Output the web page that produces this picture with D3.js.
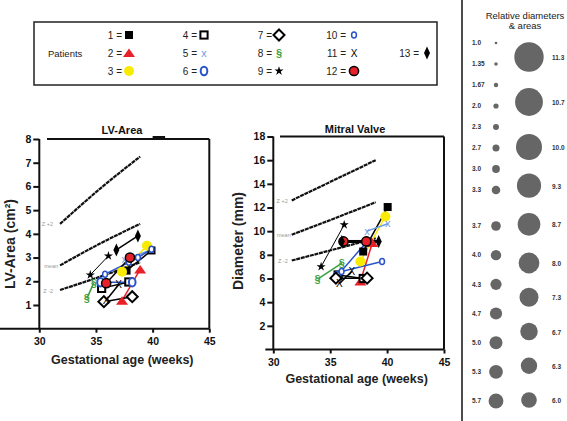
<!DOCTYPE html>
<html><head><meta charset="utf-8">
<script src="https://cdn.jsdelivr.net/npm/d3@7"></script>
<style>body{margin:0;background:#fff}svg{display:block;font-family:Arial,"Liberation Sans",sans-serif}</style>
</head><body><svg id="c" width="567" height="421"></svg>
<script>
// ---------- DATA ----------
const patients = [1,2,3,4,5,6,7,8,9,10,11,12,13];
const patientColors = ["#000","#e8202a","#f8ea00","#000","#6d9de2","#2a52c9","#000","#3a9e3a","#000","#2a52c9","#000","#000","#000"];
// LV-Area (cm2) per patient
const lvWeeks = [[37.7,39.9],[37.3,38.9],[37.3,39.5],[35.5,37.9],[37.5,39.9],[35.4,38.2],[35.7,38.2],[34.2,34.8],[34.5,36.1],[35.8,37.9,38.7,39.9],[35.9,37.0],[35.9,38.0],[36.8,38.7]];
const lvArea  = [[2.45,3.3],[1.18,2.5],[2.4,3.5],[1.7,1.97],[2.9,3.33],[1.96,1.96],[1.14,1.35],[1.28,1.92],[2.27,3.07],[2.3,2.8,3.0,3.35],[1.2,1.85],[1.92,3.0],[3.32,3.91]];
// Mitral valve diameter (mm) per patient
const mvWeeks = [[37.9,40.05],[37.65,38.7],[37.65,39.85],[35.7,37.9],[38.24,40.05],[35.6,38.24],[35.5,38.24],[33.9,36.03],[34.2,36.23],[36.0,39.56],[35.8,36.9],[36.17,38.17],[36.02,39.26]];
const mvDiam  = [[8.28,12.04],[5.75,9.0],[7.44,11.24],[6.3,6.0],[10.0,10.63],[6.2,9.13],[6.03,6.03],[5.95,7.3],[7.0,10.54],[6.6,7.44],[5.55,6.6],[9.13,9.13],[9.13,9.13]];
// reference curves
const refWeeksLV = [31.83,35.4,38.9];
const lvZplus2 = [4.42,5.92,7.26];
const lvMean   = [2.67,3.6,4.42];
const lvZminus2= [1.63,2.2,2.8];
const refWeeksMV = [31.62,35.3,39.0];
const mvZplus2 = [12.6,14.3,16.0];
const mvMean   = [9.7,11.05,12.45];
const mvZminus2= [7.52,8.45,9.4];
const refLabels = ["Z +2","mean","Z -2"];
// axis ticks
const weekTicks = [30,35,40,45];
const lvTicks = [1,2,3,4,5,6,7,8];
const mvTicks = [2,4,6,8,10,12,14,16,18];
// relative diameters panel
const relSmall = [1.0,1.35,1.67,2.0,2.3,2.7,3.0,3.3,3.7,4.0,4.3,4.7,5.0,5.3,5.7];
const relLarge = [11.3,10.7,10.0,9.3,8.7,8.0,7.3,6.7,6.3,6.0];

// ---------- DRAW ----------
const svg = d3.select("#c");

function marker(g, p, x, y, s) {
  const col = patientColors[p-1];
  switch (p) {
    case 1: g.append("rect").attr("x",x-4*s).attr("y",y-4*s).attr("width",8*s).attr("height",8*s).attr("fill","#000"); break;
    case 2: g.append("path").attr("d",`M${x-6*s},${y+4*s}L${x},${y-4.5*s}L${x+6*s},${y+4*s}Z`).attr("fill",col); break;
    case 3: g.append("circle").attr("cx",x).attr("cy",y).attr("r",5*s).attr("fill",col); break;
    case 4: g.append("rect").attr("x",x-3.6*s).attr("y",y-3.6*s).attr("width",7.2*s).attr("height",7.2*s).attr("fill","#fff").attr("stroke","#000").attr("stroke-width",2); break;
    case 5: g.append("text").attr("x",x).attr("y",y+3.5*s).attr("text-anchor","middle").attr("font-size",11*s).attr("fill",col).text("x"); break;
    case 6: g.append("ellipse").attr("cx",x).attr("cy",y).attr("rx",3.3*s).attr("ry",4.3*s).attr("fill","#fff").attr("stroke",col).attr("stroke-width",2); break;
    case 7: g.append("path").attr("d",`M${x},${y-5.5*s}L${x+5.5*s},${y}L${x},${y+5.5*s}L${x-5.5*s},${y}Z`).attr("fill","#fff").attr("stroke","#000").attr("stroke-width",2); break;
    case 8: g.append("text").attr("x",x).attr("y",y+4*s).attr("text-anchor","middle").attr("font-size",11*s).attr("font-weight","bold").attr("fill",col).text("§"); break;
    case 9: g.append("path").attr("transform",`translate(${x},${y})`).attr("d",d3.symbol(d3.symbolStar,26*s*s)()).attr("fill","#000"); break;
    case 10: g.append("ellipse").attr("cx",x).attr("cy",y).attr("rx",2.4*s).attr("ry",3*s).attr("fill","#fff").attr("stroke",col).attr("stroke-width",1.5); break;
    case 11: g.append("text").attr("x",x).attr("y",y+3.5*s).attr("text-anchor","middle").attr("font-size",10*s).attr("fill","#000").text("X"); break;
    case 12: g.append("circle").attr("cx",x).attr("cy",y).attr("r",4.6*s).attr("fill","#e8202a").attr("stroke","#000").attr("stroke-width",1.5); break;
    case 13: g.append("path").attr("d",`M${x},${y-6.5*s}L${x+3*s},${y}L${x},${y+6.5*s}L${x-3*s},${y}Z`).attr("fill","#000"); break;
  }
}

// ---------- Legend ----------
const leg = svg.append("g");
leg.append("rect").attr("x",34).attr("y",22).attr("width",403).attr("height",63).attr("fill","#fff").attr("stroke","#222").attr("stroke-width",1.5);
leg.append("text").attr("x",48).attr("y",57).attr("font-size",9.5).attr("fill","#222").text("Patients");
const legCol = d3.scaleLinear().domain([0,3]).range([129,354]);
const legRow = d3.scaleLinear().domain([0,2]).range([35,71]);
patients.forEach((p,i) => {
  let cx, cy;
  if (p === 13) { cx = 427; cy = legRow(1); }
  else { cx = legCol(Math.floor(i/3)); cy = legRow(i%3); }
  const off = p >= 10 ? 8 : 7;
  leg.append("text").attr("x",cx-off).attr("y",cy+3.5).attr("text-anchor","end").attr("font-size",10).attr("fill","#222").text(p+" =");
  marker(leg,p,cx,cy,1);
});

// ---------- generic chart ----------
function chart(opt) {
  const g = svg.append("g");
  const x = d3.scaleLinear().domain([30,45]).range(opt.xr);
  const y = d3.scaleLinear().domain([0,opt.ymax]).range(opt.yr);
  g.append("line").attr("x1",opt.boxLeft).attr("x2",x(45)).attr("y1",y(opt.ymax)).attr("y2",y(opt.ymax)).attr("stroke","#111").attr("stroke-width",2);
  g.append("line").attr("x1",x(45)).attr("x2",x(45)).attr("y1",y(opt.ymax)).attr("y2",y(0)).attr("stroke","#111").attr("stroke-width",2);
  const ya = g.append("g").attr("transform",`translate(${x(30)},0)`)
     .call(d3.axisLeft(y).tickValues(opt.yticks).tickSize(6).tickPadding(2).tickSizeOuter(0));
  ya.select(".domain").attr("stroke","#111").attr("stroke-width",2).attr("d",`M0,${y(opt.ymax)}V${y(0)}`);
  const xa = g.append("g").attr("transform",`translate(0,${y(0)})`)
     .call(d3.axisBottom(x).tickValues(weekTicks).tickSize(4).tickPadding(5).tickSizeOuter(0));
  xa.select(".domain").attr("stroke","#111").attr("stroke-width",2).attr("d",`M${x(opt.xStart)},0H${x(45)}`);
  [ya,xa].forEach(a => {
    a.selectAll(".tick line").attr("stroke","#111").attr("stroke-width",2);
    a.selectAll(".tick text").attr("font-size",10.5).attr("font-weight","bold").attr("fill","#111").attr("font-family","Arial, 'Liberation Sans', sans-serif");
  });
  g.append("text").attr("x",opt.titleX).attr("y",opt.titleY).attr("text-anchor","middle").attr("font-size",11).attr("font-weight","bold").attr("fill","#111").text(opt.title);
  g.append("text").attr("x",(x(30)+x(45))/2 - 2).attr("y",opt.xlabY).attr("text-anchor","middle").attr("font-size",12.5).attr("font-weight","bold").attr("fill","#222").text("Gestational age (weeks)");
  g.append("text").attr("transform",`translate(${opt.ylabX},${opt.ylabY}) rotate(-90)`).attr("text-anchor","middle").attr("font-size",14).attr("font-weight","bold").attr("fill","#222").text(opt.ylab);
  const line = d3.line().x(d=>x(d[0])).y(d=>y(d[1])).curve(d3.curveNatural);
  opt.refs.forEach((vals,k) => {
    const pts = opt.refWeeks.map((w,i)=>[w,vals[i]]);
    g.append("path").attr("d",line(pts)).attr("fill","none").attr("stroke","#111").attr("stroke-width",2.2).attr("stroke-dasharray","4,0.7");
    g.append("text").attr("x",x(opt.refWeeks[0])-opt.labOff[k]).attr("y",y(vals[0])+2.5).attr("text-anchor","end").attr("font-size",5.5).attr("fill","#999").text(refLabels[k]);
  });
  const pl = d3.line().x(d=>x(d[0])).y(d=>y(d[1]));
  patients.forEach((p,i) => {
    const pts = opt.weeks[i].map((w,j)=>[w,opt.vals[i][j]]);
    let sw = 1.5;
    if (p===9) sw = 1;
    if (opt.thick && (p===12||p===13)) sw = 3;
    g.append("path").attr("d",pl(pts)).attr("fill","none").attr("stroke",patientColors[i]).attr("stroke-width",sw);
  });
  patients.forEach((p,i) => {
    opt.weeks[i].forEach((w,j) => marker(g,p,x(w),y(opt.vals[i][j]),1.0));
  });
  return {x,y,g};
}

const lv = chart({xr:[39.3,209.3], yr:[328.7,139], ymax:8, yticks:lvTicks, boxLeft:47, xStart:26.5,
  title:"LV-Area", titleX:122, titleY:134, xlabY:364, ylab:"LV-Area (cm²)", ylabX:15, ylabY:244,
  refWeeks:refWeeksLV, refs:[lvZplus2,lvMean,lvZminus2], labOff:[7,2,7],
  weeks:lvWeeks, vals:lvArea, thick:false});
lv.g.append("line").attr("x1",lv.x(40)).attr("x2",lv.x(41.1)).attr("y1",137.5).attr("y2",137.5).attr("stroke","#111").attr("stroke-width",3);

chart({xr:[273.3,444], yr:[349.5,136.5], ymax:18, yticks:mvTicks, boxLeft:280, xStart:29.3,
  title:"Mitral Valve", titleX:355, titleY:133, xlabY:383, ylab:"Diameter (mm)", ylabX:243, ylabY:241,
  refWeeks:refWeeksMV, refs:[mvZplus2,mvMean,mvZminus2], labOff:[4,1,4],
  weeks:mvWeeks, vals:mvDiam, thick:true});

// ---------- Relative diameters panel ----------
const rp = svg.append("g");
rp.append("line").attr("x1",462).attr("x2",462).attr("y1",0).attr("y2",421).attr("stroke","#111").attr("stroke-width",1.5);
rp.append("text").attr("x",525).attr("y",19).attr("text-anchor","middle").attr("font-size",9.5).attr("fill","#222").text("Relative diameters");
rp.append("text").attr("x",525).attr("y",29).attr("text-anchor","middle").attr("font-size",9.5).attr("fill","#222").text("& areas");
const rScale = d3.scaleLinear().domain([0,1]).range([0,1.3]);
const ySmall = d3.scaleLinear().domain([0,7,8,14]).range([43,190,226,401]);
const yLarge = d3.scaleLinear().domain([0,2,5,9]).range([57,147,263,400]);
relSmall.forEach((v,i) => {
  rp.append("text").attr("x",472).attr("y",ySmall(i)+2.3).attr("font-size",6.5).attr("font-weight","bold").attr("fill","#333").text(v.toFixed(v===1.35||v===1.67?2:1));
  rp.append("circle").attr("cx",496).attr("cy",ySmall(i)).attr("r",rScale(v)).attr("fill","#666");
});
relLarge.forEach((v,i) => {
  rp.append("circle").attr("cx",529).attr("cy",yLarge(i)).attr("r",rScale(v)).attr("fill","#666");
  rp.append("text").attr("x",552).attr("y",yLarge(i)+3).attr("font-size",6.5).attr("font-weight","bold").attr("fill","#333").text(v.toFixed(1));
});
</script></body></html>
